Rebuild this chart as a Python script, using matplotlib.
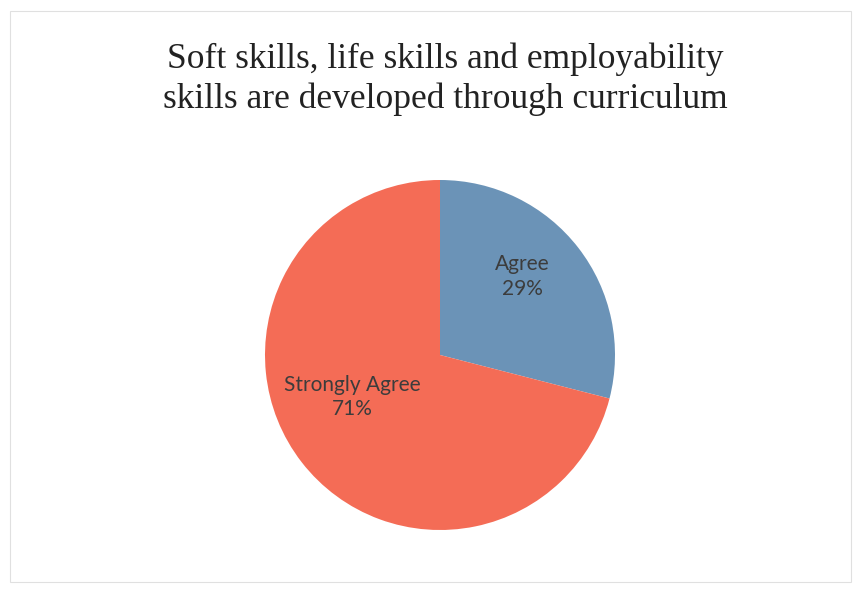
import matplotlib
matplotlib.use("Agg")
import matplotlib.pyplot as plt
from matplotlib.patches import Rectangle

categories = ["Agree", "Strongly Agree"]
values = [29, 71]
title = "Soft skills, life skills and employability\nskills are developed through curriculum"

colors = ["#6b93b7", "#f46c56"]

fig = plt.figure(figsize=(8.61, 5.89), dpi=100)
fig.patch.set_facecolor("white")
fig.add_artist(Rectangle((0.012, 0.012), 0.976, 0.97, transform=fig.transFigure,
                         fill=False, edgecolor="#e0e0e0", linewidth=0.8))

ax = fig.add_axes([265/861, (589-530)/589, 350/861, 350/589])
wedges, _ = ax.pie(values, colors=colors, startangle=90, counterclock=False,
                   radius=1.0, wedgeprops=dict(linewidth=0))
ax.set_xlim(-1, 1)
ax.set_ylim(-1, 1)
ax.set_aspect("equal")
ax.axis("off")

label_pos = [(0.47, 0.45), (-0.50, -0.24)]
for cat, v, (x, y) in zip(categories, values, label_pos):
    ax.text(x, y, f"{cat}\n{v}%", ha="center", va="center", fontsize=15,
            family="Lato", color="#3c3c3c", linespacing=1.3)

fig.text(445/861, 1 - 79/589, title, ha="center", va="center", fontsize=25.5,
         family="Liberation Serif", color="#222222", linespacing=1.25)

fig.savefig("out.png", dpi=100)
